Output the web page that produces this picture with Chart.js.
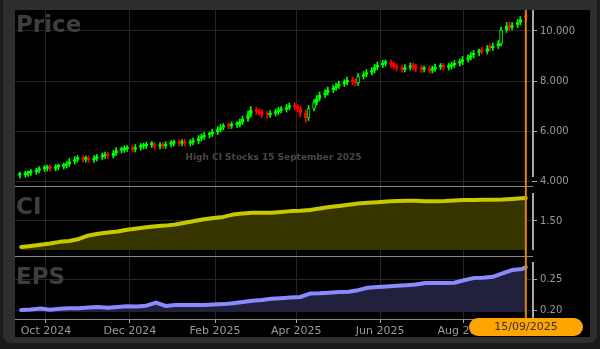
<!DOCTYPE html>
<html>
<head>
<meta charset="utf-8">
<script src="https://cdn.jsdelivr.net/npm/chart.js@4.4.1/dist/chart.umd.min.js"></script>
<style>
  html, body { margin: 0; padding: 0; width: 600px; height: 349px; overflow: hidden; background: #1b1b1b; }
  #frame { position: absolute; left: 3px; top: -10px; width: 594px; height: 353px; background: #2e2e2e; border-radius: 8px; }
  #plot { position: absolute; left: 15px; top: 10px; width: 575px; height: 327px; background: #000; }
  canvas { position: absolute; left: 15px; }
  .title { position: absolute; left: 16px; font: bold 23px "DejaVu Sans", sans-serif; color: #3e3e3e; line-height: 23px; }
  #mark { position: absolute; left: 15px; width: 517px; top: 152px; text-align: center;
          font: bold 9px "DejaVu Sans", sans-serif; color: #474747; line-height: 10px; }
  #datePill { position: absolute; left: 469px; top: 318px; width: 114px; height: 18px; border-radius: 9px;
              background: #ffa500; color: #333; font: 11px "DejaVu Sans", sans-serif; line-height: 18px; text-align: center; }
</style>
</head>
<body>
<div id="frame"></div>
<div id="plot"></div>
<canvas id="priceChart" width="575" height="177" style="top:10px"></canvas>
<canvas id="ciChart" width="575" height="70" style="top:187px"></canvas>
<canvas id="epsChart" width="575" height="80" style="top:257px"></canvas>
<div class="title" style="top:13px">Price</div>
<div class="title" style="top:195px">CI</div>
<div class="title" style="top:265px">EPS</div>
<div id="mark">High CI Stocks 15 September 2025</div>
<div id="datePill"></div>
<script>
// dates are turned into day numbers counted from 1 Oct 2024
const ORIGIN = Date.UTC(2024, 9, 1);
const DAY = 864e5;
const toDay = s => { const [y, m, d] = s.split('-').map(Number); return (Date.UTC(y, m - 1, d) - ORIGIN) / DAY; };

const lastDate = '2025-09-15';
const firstWeek = '2024-09-13';
const xTickDates = ['2024-10-01', '2024-12-01', '2025-02-01', '2025-04-01', '2025-06-01', '2025-08-01'];
const xTickLabels = ['Oct 2024', 'Dec 2024', 'Feb 2025', 'Apr 2025', 'Jun 2025', 'Aug 2025'];
const priceTicks = [4, 6, 8, 10];
const ciTicks = [1.5];
const epsTicks = [0.20, 0.25];

// one candle every second trading day, the last one on lastDate
const opens = [4.22,4.25,4.28,4.32,4.36,4.42,4.48,4.50,4.54,4.50,
  4.55,4.58,4.62,4.68,4.78,4.86,4.92,4.86,4.90,4.84,
  4.90,4.95,5.00,5.06,5.00,5.12,5.22,5.24,5.28,5.32,
  5.26,5.34,5.38,5.40,5.44,5.46,5.38,5.44,5.40,5.46,
  5.50,5.54,5.50,5.56,5.50,5.54,5.60,5.70,5.76,5.84,
  5.88,5.96,6.06,6.14,6.22,6.20,6.24,6.26,6.36,6.48,
  6.66,6.86,6.80,6.76,6.66,6.64,6.70,6.76,6.82,6.86,
  6.94,7.02,6.98,6.90,6.72,6.52,6.90,7.14,7.30,7.44,
  7.54,7.64,7.72,7.80,7.88,7.94,8.06,7.98,7.92,8.18,
  8.26,8.34,8.42,8.54,8.64,8.70,8.74,8.66,8.60,8.54,
  8.46,8.54,8.62,8.58,8.52,8.46,8.50,8.42,8.48,8.56,
  8.60,8.54,8.58,8.64,8.70,8.76,8.86,8.94,9.04,9.14,
  9.24,9.18,9.36,9.32,9.40,9.50,10.04,10.24,10.14,10.26,
  10.34,10.60];
const highs = [4.36,4.39,4.41,4.46,4.51,4.58,4.62,4.64,4.64,4.66,
  4.68,4.72,4.78,4.90,4.98,5.02,5.02,5.00,5.00,5.02,
  5.06,5.12,5.16,5.16,5.22,5.34,5.36,5.40,5.42,5.42,
  5.46,5.50,5.52,5.56,5.58,5.56,5.54,5.54,5.58,5.62,
  5.64,5.64,5.66,5.66,5.66,5.72,5.82,5.88,5.94,5.96,
  6.08,6.18,6.26,6.30,6.32,6.36,6.38,6.48,6.60,6.80,
  6.98,6.96,6.90,6.86,6.78,6.82,6.88,6.94,6.98,7.06,
  7.12,7.12,7.08,7.00,6.84,7.02,7.26,7.42,7.56,7.66,
  7.76,7.84,7.92,8.00,8.06,8.16,8.16,8.08,8.30,8.38,
  8.46,8.54,8.66,8.76,8.82,8.84,8.84,8.76,8.70,8.64,
  8.66,8.72,8.72,8.68,8.62,8.60,8.60,8.60,8.68,8.70,
  8.70,8.70,8.76,8.82,8.88,8.98,9.06,9.14,9.22,9.28,
  9.36,9.42,9.48,9.52,9.62,10.16,10.34,10.36,10.34,10.46,
  10.58,10.72];
const lows = [4.12,4.15,4.18,4.22,4.27,4.32,4.38,4.40,4.39,4.41,
  4.44,4.48,4.52,4.58,4.68,4.76,4.76,4.76,4.74,4.74,
  4.80,4.86,4.90,4.90,4.92,5.02,5.12,5.14,5.18,5.16,
  5.16,5.24,5.28,5.30,5.34,5.28,5.28,5.30,5.30,5.36,
  5.40,5.40,5.40,5.40,5.40,5.44,5.50,5.60,5.66,5.72,
  5.78,5.86,5.96,6.04,6.08,6.10,6.14,6.16,6.26,6.38,
  6.56,6.66,6.62,6.54,6.52,6.54,6.60,6.66,6.72,6.76,
  6.84,6.84,6.78,6.56,6.34,6.42,6.80,7.04,7.20,7.34,
  7.44,7.54,7.62,7.70,7.78,7.84,7.86,7.80,7.82,8.08,
  8.16,8.24,8.32,8.44,8.54,8.60,8.54,8.48,8.40,8.34,
  8.36,8.44,8.44,8.38,8.34,8.36,8.32,8.32,8.38,8.46,
  8.44,8.44,8.48,8.54,8.60,8.66,8.76,8.84,8.92,9.00,
  9.08,9.08,9.20,9.22,9.30,9.40,9.94,10.00,10.04,10.14,
  10.24,10.42];
const closes = [4.25,4.28,4.30,4.36,4.40,4.48,4.50,4.52,4.50,4.55,
  4.56,4.62,4.68,4.78,4.86,4.90,4.86,4.88,4.84,4.90,
  4.95,5.00,5.04,5.00,5.12,5.22,5.24,5.28,5.30,5.26,
  5.34,5.38,5.40,5.44,5.46,5.38,5.42,5.40,5.46,5.50,
  5.52,5.50,5.54,5.50,5.54,5.60,5.70,5.76,5.82,5.88,
  5.96,6.06,6.14,6.18,6.20,6.24,6.26,6.36,6.48,6.66,
  6.84,6.78,6.74,6.66,6.64,6.70,6.76,6.82,6.86,6.94,
  7.00,6.96,6.90,6.70,6.52,6.90,7.14,7.30,7.44,7.54,
  7.64,7.72,7.80,7.88,7.94,8.04,7.96,7.92,8.18,8.26,
  8.34,8.42,8.54,8.64,8.70,8.72,8.64,8.58,8.52,8.46,
  8.54,8.60,8.56,8.50,8.46,8.48,8.42,8.48,8.56,8.58,
  8.54,8.58,8.64,8.70,8.76,8.86,8.94,9.02,9.10,9.16,
  9.18,9.30,9.32,9.40,9.50,10.04,10.20,10.14,10.22,10.34,
  10.46,10.54];

// weekly readings from firstWeek, the last one on lastDate
const ciValues = [1.05,1.07,1.09,1.11,1.14,1.155,1.19,1.25,1.28,1.30,
  1.32,1.35,1.37,1.39,1.41,1.42,1.44,1.47,1.50,1.53,
  1.55,1.57,1.61,1.63,1.64,1.64,1.64,1.655,1.67,1.675,
  1.69,1.715,1.74,1.76,1.78,1.80,1.815,1.825,1.835,1.845,
  1.85,1.85,1.84,1.84,1.845,1.855,1.86,1.86,1.865,1.865,
  1.87,1.88,1.89,1.895];
const epsValues = [0.200,0.201,0.2025,0.2005,0.202,0.203,0.203,0.204,0.205,0.2035,
  0.205,0.206,0.2055,0.207,0.212,0.2065,0.208,0.208,0.208,0.208,
  0.209,0.2095,0.211,0.213,0.215,0.216,0.218,0.219,0.220,0.221,
  0.2265,0.227,0.228,0.229,0.2295,0.232,0.236,0.237,0.238,0.239,
  0.240,0.241,0.2435,0.2435,0.2435,0.244,0.248,0.2515,0.252,0.2535,
  0.259,0.2645,0.266,0.269];

const X_MIN = -22.5, X_MAX = 353.5;
const GRID = '#262626', AXIS = '#a8a8a8', SEP = '#8a8a8a', LABEL = '#9a9a9a';
const UP = '#00ff00', DOWN = '#ff0000';

function candleDays(n) {
  const out = [];
  let t = toDay(lastDate), k = 0;
  while (out.length < n) {
    const wd = new Date(ORIGIN + t * DAY).getUTCDay();
    if (wd !== 0 && wd !== 6) {
      if (k % 2 === 0) out.unshift(t);
      k++;
    }
    t--;
  }
  return out;
}
const weekDays = n => Array.from({ length: n }, (_, i) => i === n - 1 ? toDay(lastDate) : toDay(firstWeek) + 7 * i);

const orangeLine = {
  id: 'orangeLine',
  afterDatasetsDraw(chart) {
    const x = chart.scales.x.getPixelForValue(toDay(lastDate));
    const ctx = chart.ctx;
    ctx.save();
    ctx.strokeStyle = '#e08800';
    ctx.lineWidth = 2;
    ctx.beginPath();
    ctx.moveTo(x, 0);
    ctx.lineTo(x, chart.chartArea.bottom + 1);
    ctx.stroke();
    ctx.restore();
  }
};

// right axis line, drawn a bit shorter than the panel like the original
const axisSegment = {
  id: 'axisSegment',
  afterDraw(chart, args, opts) {
    const { top, bottom, right } = chart.chartArea;
    const ctx = chart.ctx;
    ctx.save();
    ctx.strokeStyle = AXIS;
    ctx.lineWidth = 2;
    ctx.beginPath();
    ctx.moveTo(right + 1, top + opts.top);
    ctx.lineTo(right + 1, bottom - opts.bottom);
    ctx.stroke();
    ctx.restore();
  }
};

function xScale(showLabels) {
  return {
    type: 'linear', min: X_MIN, max: X_MAX, offset: false,
    afterBuildTicks: s => { s.ticks = xTickDates.map(d => ({ value: toDay(d) })); },
    afterFit: s => { s.height = showLabels ? 18 : 1; },
    grid: { color: GRID, offset: false, drawTicks: showLabels, tickLength: 4, tickColor: AXIS },
    border: { display: true, color: SEP, width: 1 },
    ticks: {
      display: showLabels, autoSkip: false, maxRotation: 0, padding: 2, color: LABEL,
      font: { family: 'DejaVu Sans', size: 11 },
      callback: (v, i) => xTickLabels[i]
    }
  };
}

function yScale(min, max, ticks, digits) {
  return {
    position: 'right', min, max,
    afterBuildTicks: s => { s.ticks = ticks.map(v => ({ value: v })); },
    afterFit: s => { s.width = 58; s.paddingTop = 0; s.paddingBottom = 0; },
    grid: { color: GRID, drawTicks: true, tickLength: 5, tickColor: AXIS },
    border: { display: false },
    ticks: { color: LABEL, padding: 3, font: { family: 'DejaVu Sans', size: 10 }, callback: v => v.toFixed(digits) }
  };
}

const baseOptions = (x, y, seg) => ({
  responsive: false, animation: false, events: [], devicePixelRatio: 1,
  layout: { padding: 0 },
  plugins: { legend: { display: false }, tooltip: { enabled: false }, axisSegment: seg },
  scales: { x, y }
});

// price panel: up candles green (big bodies hollow), down candles red
const cDays = candleDays(closes.length);
const isUp = i => closes[i] >= opens[i];
const hollow = i => isUp(i) && closes[i] - opens[i] >= 0.2;
new Chart(document.getElementById('priceChart'), {
  type: 'bar',
  data: {
    datasets: [
      {
        data: cDays.map((d, i) => ({ x: d, y: [opens[i], closes[i]] })),
        barThickness: 3, grouped: false, minBarLength: 2, borderSkipped: false, borderWidth: 1,
        borderColor: cDays.map((d, i) => isUp(i) ? UP : DOWN),
        backgroundColor: cDays.map((d, i) => hollow(i) ? '#000' : (isUp(i) ? UP : DOWN))
      },
      {
        data: cDays.map((d, i) => ({ x: d, y: [lows[i], highs[i]] })),
        barThickness: 1, grouped: false, borderWidth: 0,
        backgroundColor: cDays.map((d, i) => isUp(i) ? UP : DOWN)
      }
    ]
  },
  options: baseOptions(xScale(false), yScale(3.8, 10.84, priceTicks, 3), { top: 0, bottom: 9 }),
  plugins: [orangeLine, axisSegment]
});

// CI panel
const wDays = weekDays(ciValues.length);
new Chart(document.getElementById('ciChart'), {
  type: 'line',
  data: {
    datasets: [{
      data: wDays.map((d, i) => ({ x: d, y: ciValues[i] })),
      borderColor: '#c8c800', borderWidth: 4, pointRadius: 0, tension: 0,
      borderCapStyle: 'round', borderJoinStyle: 'round',
      fill: { value: 1.0 }, backgroundColor: '#363500'
    }]
  },
  options: baseOptions(xScale(false), yScale(0.896, 2.086, ciTicks, 2), { top: 6, bottom: 6 }),
  plugins: [orangeLine, axisSegment]
});

// EPS panel
new Chart(document.getElementById('epsChart'), {
  type: 'line',
  data: {
    datasets: [{
      data: wDays.map((d, i) => ({ x: d, y: epsValues[i] })),
      borderColor: '#8a8aff', borderWidth: 4, pointRadius: 0, tension: 0,
      borderCapStyle: 'round', borderJoinStyle: 'round',
      fill: { value: 0.1968 }, backgroundColor: '#21213d'
    }]
  },
  options: baseOptions(xScale(true), yScale(0.1855, 0.2855, epsTicks, 2), { top: 5, bottom: 0 }),
  plugins: [orangeLine, axisSegment]
});

const [yy, mm, dd] = lastDate.split('-');
document.getElementById('datePill').textContent = `${dd}/${mm}/${yy}`;
</script>
</body>
</html>
